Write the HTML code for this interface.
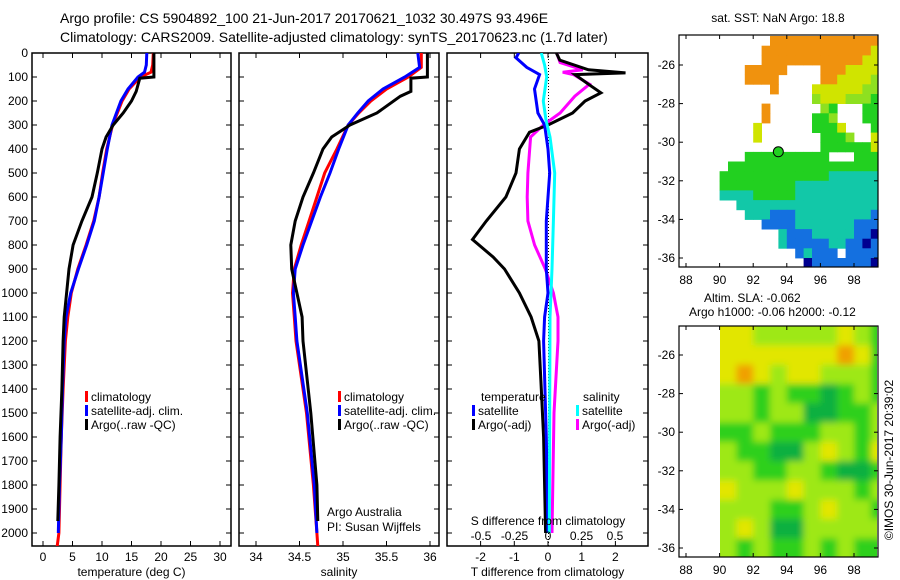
<!DOCTYPE html>
<html><head><meta charset="utf-8"><style>
body{margin:0;background:#fff;}
svg{display:block;font-family:"Liberation Sans",sans-serif;}
</style></head><body>
<svg id="fig" width="900" height="580" viewBox="0 0 900 580">
<defs>
<clipPath id="c1"><rect x="32" y="53" width="199" height="493"/></clipPath>
<clipPath id="c2"><rect x="239" y="53" width="200" height="493"/></clipPath>
<clipPath id="c3"><rect x="447" y="53" width="201" height="493"/></clipPath>
<clipPath id="cm2"><rect x="720" y="326" width="157" height="231"/></clipPath>
<filter id="blur" x="-5%" y="-5%" width="110%" height="110%"><feGaussianBlur stdDeviation="3.5"/></filter>
</defs>
<text x="60" y="23" font-size="14">Argo profile: CS 5904892_100 21-Jun-2017 20170621_1032 30.497S 93.496E</text>
<text x="60" y="42" font-size="14">Climatology: CARS2009. Satellite-adjusted climatology: synTS_20170623.nc (1.7d later)</text>
<g id="g1"></g>
<g id="g2"></g>
<g id="g3"></g>
<g id="gm1"></g>
<g id="gm2"></g>
<text x="778" y="22" font-size="12" text-anchor="middle">sat. SST: NaN Argo: 18.8</text>
<text x="704" y="302" font-size="12">Altim. SLA: -0.062</text>
<text x="689" y="316" font-size="12">Argo h1000: -0.06 h2000: -0.12</text>
<text transform="translate(893,460) rotate(-90)" font-size="12" text-anchor="middle">©IMOS 30-Jun-2017 20:39:02</text>
</svg>
<script>
// ---- profile data ----
const tClimDepth=[0,50,80,100,150,200,300,400,500,600,700,800,900,1000,1100,1200,1400,1600,1800,2000,2055];
const tClimVal=[18.7,18.6,18.3,16.5,14.6,13.4,11.8,10.8,10.1,9.5,8.6,7.3,5.9,4.8,4.2,3.8,3.4,3.1,2.9,2.7,2.4];
const tSatDepth=[0,50,80,100,150,200,300,400,500,600,700,800,900,1000,1100,1200,1400,1600,1800,2000];
const tSatVal=[17.6,17.5,17.2,16.1,14.4,13.2,11.7,10.9,10.2,9.5,8.7,7.4,6.0,4.7,3.9,3.6,3.3,3.1,2.8,2.6];
const tArgoDepth=[0,100,105,160,200,250,300,350,400,500,600,700,800,900,1000,1100,1200,1400,1600,1800,1950];
const tArgoVal=[18.8,18.8,16.4,15.8,15.0,13.6,11.9,10.7,10.0,9.2,8.3,6.6,5.1,4.4,4.0,3.6,3.4,3.2,2.9,2.7,2.5];
const sClimDepth=[0,60,100,150,200,250,300,400,500,600,700,800,900,1000,1100,1200,1500,1800,2000,2055];
const sClimVal=[35.9,35.9,35.75,35.5,35.32,35.18,35.06,34.93,34.79,34.70,34.61,34.52,34.44,34.42,34.44,34.46,34.58,34.66,34.70,34.71];
const sSatDepth=[0,60,100,150,200,250,300,400,500,600,700,800,900,1000,1100,1200,1500,1800,2000];
const sSatVal=[35.86,35.88,35.71,35.46,35.29,35.17,35.06,34.95,34.85,34.74,34.64,34.54,34.45,34.43,34.45,34.47,34.59,34.67,34.70];
const sArgoDepth=[0,100,105,160,180,250,300,350,400,500,600,700,800,900,1000,1100,1200,1500,1800,1950];
const sArgoVal=[35.97,35.97,35.78,35.78,35.66,35.39,35.08,34.87,34.77,34.66,34.54,34.45,34.40,34.41,34.47,34.53,34.54,34.63,34.70,34.71];
const dTArgoDepth=[0,30,70,83,90,130,166,200,250,300,330,400,500,600,700,777,850,900,1000,1100,1200,1400,1600,2000];
const dTArgoVal=[0.25,0.35,1.2,2.3,0.8,1.2,1.57,1.1,0.73,0,-0.55,-0.85,-0.95,-1.25,-1.83,-2.24,-1.63,-1.29,-0.85,-0.5,-0.27,-0.2,-0.13,-0.07];
const dTSatDepth=[0,20,60,90,110,150,250,300,400,500,700,900,1000,1100,1200,1600,2000];
const dTSatVal=[-0.87,-0.95,-0.63,-0.25,-0.3,-0.4,-0.3,-0.1,0,0.05,-0.05,-0.05,0,-0.1,-0.13,-0.05,0];
const dSSatDepth=[0,50,100,200,280,350,500,700,900,1100,1500,2000];
const dSSatVal=[-0.05,-0.025,-0.01,-0.035,-0.015,0.015,0.05,0.04,0.03,0.015,0.013,0.01];
const dSArgoDepth=[0,40,70,80,90,130,180,250,300,350,500,600,700,800,900,1000,1100,1200,1500,2000];
const dSArgoVal=[0.065,0.09,0.26,0.11,0.19,0.31,0.2,0.09,-0.035,-0.13,-0.15,-0.155,-0.15,-0.1,-0.02,0.04,0.075,0.075,0.045,0.03];
const depthTicks=[0,100,200,300,400,500,600,700,800,900,1000,1100,1200,1300,1400,1500,1600,1700,1800,1900,2000];
const tTicks=[0,5,10,15,20,25,30];
const sTicks=[34,34.5,35,35.5,36];
const dTTicks=[-2,-1,0,1,2];
const dSTicks=[-0.5,-0.25,0,0.25,0.5];
const dSTickLabels=["-0.5","-0.25","0","0.25","0.5"];
// ---- SST map grid (0.5 deg, lon 87.5-99.5, lat -24.5 to -36.5) ----
const sstRows=[
"...........ooooooooooooo",
"..........oooooooooooooy",
"..........ooooooooooooyy",
"........ooooo....oooyyyy",
"........oooo.....ooyyyyl",
"...........o....yyyyyyll",
"................lyyylllg",
"..........o......lg...gg",
"..........o.....ggl...gg",
".........y......gggy...g",
".........y.......gggl..y",
".................ggggggy",
"........gggggggggg...ggg",
"......gggggggggggggggggg",
".....gggggggggggggcccccc",
".....gggggggggcccccccccc",
".....ccccgggggcccccccccc",
".......ccccccccccccccccc",
"........cccbbbcccccccccb",
"..........bbbbcccccccbbb",
"............cbbbcccccbbn",
"............cbbbbbccbbnb",
"..............bcbbb.bbbb",
"...............nbbbbbbbn"];
const sstColors={o:"#f0920e",y:"#d0e400",l:"#8ee020",g:"#22d020",c:"#12c8a8",b:"#1470e0",n:"#000090"};
// ---- SLA grid (1 deg, lon 90-100, lat -24.5 to -36.5) ----
const slaRows=[
[3,3,2,2,2,2,2,3,2,1],
[3,3,3,3,3,3,3,4,3,1],
[3,4,3,2,3,3,2,2,2,1],
[2,2,1,2,1,1,0,1,2,1],
[2,2,1,2,2,0,0,1,1,2],
[1,1,2,1,1,1,2,2,1,2],
[2,1,1,0,0,2,3,2,1,3],
[2,2,1,1,2,2,1,0,0,1],
[3,2,2,2,3,2,2,2,1,2],
[2,2,2,1,1,2,3,2,2,1],
[2,3,2,0,0,2,2,2,2,2],
[2,1,2,1,1,2,1,2,1,1]];
const slaColors=["#0cb040","#2ed01c","#9ee818","#e2e600","#f0a000"];
const lonTicks=[88,90,92,94,96,98];
const latTicks=[-26,-28,-30,-32,-34,-36];

const NS="http://www.w3.org/2000/svg";
function mk(parent,tag,attrs){const e=document.createElementNS(NS,tag);for(const k in attrs)e.setAttribute(k,attrs[k]);parent.appendChild(e);return e;}
const yD=d=>53+d*0.24;
const xT=t=>43+t*5.9;
const xS=s=>256+(s-34)*87;
const xDT=t=>548+t*33.7;
const xDS=s=>548+s*134;
const TOP=53,BOT=546;

function frame(g,x0,x1,ticksX,fx,labels,title,name){
  const r=mk(g,'rect',{x:x0,y:TOP,width:x1-x0,height:BOT-TOP,fill:'none',stroke:'#000','stroke-width':1.5});
  
  
  depthTicks.forEach(d=>{
    mk(g,'line',{x1:x0,x2:x0+5,y1:yD(d),y2:yD(d),stroke:'#000'});
    mk(g,'line',{x1:x1-5,x2:x1,y1:yD(d),y2:yD(d),stroke:'#000'});
  });
  ticksX.forEach((t,i)=>{
    const x=fx(t);
    mk(g,'line',{x1:x,x2:x,y1:TOP,y2:TOP+5,stroke:'#000'});
    mk(g,'line',{x1:x,x2:x,y1:BOT-5,y2:BOT,stroke:'#000'});
    const tx=mk(g,'text',{x:x,y:561,'font-size':12,'text-anchor':'middle'});
    tx.textContent=labels?labels[i]:String(t);
    
    
  });
  const tt=mk(g,'text',{x:(x0+x1)/2,y:576,'font-size':12,'text-anchor':'middle'});
  tt.textContent=title;
  
  
}
function line(g,clip,depths,vals,fx,color,name,w){
  const pts=depths.map((d,i)=>fx(vals[i]).toFixed(1)+','+yD(d).toFixed(1)).join(' ');
  const p=mk(g,'polyline',{points:pts,fill:'none',stroke:color,'stroke-width':w||3,'clip-path':'url(#'+clip+')'});
  
  
}
function legend(g,x,y,color,label){
  mk(g,'rect',{x:x,y:y-10,width:3,height:11,fill:color});
  const t=mk(g,'text',{x:x+6,y:y,'font-size':12});
  t.textContent=label;
  
  
}
const g1=document.getElementById('g1'),g2=document.getElementById('g2'),g3=document.getElementById('g3');
depthTicks.forEach(d=>{
  const t=mk(g1,'text',{x:28,y:yD(d)+4,'font-size':12,'text-anchor':'end'});
  t.textContent=String(d);
  
  
});
frame(g1,32,231,tTicks,xT,null,'temperature (deg C)','temperature');
line(g1,'c1',tClimDepth,tClimVal,xT,'#f00','temp-climatology-line');
line(g1,'c1',tSatDepth,tSatVal,xT,'#00f','temp-satellite-line');
line(g1,'c1',tArgoDepth,tArgoVal,xT,'#000','temp-argo-line');
legend(g1,85,401,'#f00','climatology');legend(g1,85,415,'#00f','satellite-adj. clim.');legend(g1,85,429,'#000','Argo(..raw -QC)');

frame(g2,239,439,sTicks,xS,null,'salinity','salinity');
line(g2,'c2',sClimDepth,sClimVal,xS,'#f00','sal-climatology-line');
line(g2,'c2',sSatDepth,sSatVal,xS,'#00f','sal-satellite-line');
line(g2,'c2',sArgoDepth,sArgoVal,xS,'#000','sal-argo-line');
legend(g2,338,401,'#f00','climatology');legend(g2,338,415,'#00f','satellite-adj. clim.');legend(g2,338,429,'#000','Argo(..raw -QC)');
[['Argo Australia',516],['PI: Susan Wijffels',531]].forEach(a=>{
  const t=mk(g2,'text',{x:327,y:a[1],'font-size':12});t.textContent=a[0];
  
  
});

frame(g3,447,648,dTTicks,xDT,null,'T difference from climatology','difference');
mk(g3,'line',{x1:548.5,x2:548.5,y1:TOP,y2:BOT,stroke:'#000','stroke-dasharray':'1,2'});
line(g3,'c3',dSArgoDepth,dSArgoVal,xDS,'#f0f','sdiff-argo-line');
line(g3,'c3',dTArgoDepth,dTArgoVal,xDT,'#000','tdiff-argo-line');
line(g3,'c3',dTSatDepth,dTSatVal,xDT,'#00f','tdiff-satellite-line');
line(g3,'c3',dSSatDepth,dSSatVal,xDS,'#0ff','sdiff-satellite-line');
dSTicks.forEach((s,i)=>{
  const t=mk(g3,'text',{x:xDS(s),y:540,'font-size':12,'text-anchor':'middle'});t.textContent=dSTickLabels[i];
  
  
});
{const t=mk(g3,'text',{x:548,y:525,'font-size':12,'text-anchor':'middle'});t.textContent='S difference from climatology';

}
{const t=mk(g3,'text',{x:481,y:401,'font-size':12});t.textContent='temperature';

}
{const t=mk(g3,'text',{x:583,y:401,'font-size':12});t.textContent='salinity';

}
legend(g3,472,415,'#00f','satellite');legend(g3,472,429,'#000','Argo(-adj)');
legend(g3,576,415,'#0ff','satellite');legend(g3,576,429,'#f0f','Argo(-adj)');

const xL=lon=>686+(lon-88)*16.8;
function mapAxes(g,y0,y1,latY,name){
  const r=mk(g,'rect',{x:679,y:y0,width:199,height:y1-y0,fill:'none',stroke:'#000','stroke-width':1.2});
  
  
  lonTicks.forEach(l=>{
    mk(g,'line',{x1:xL(l),x2:xL(l),y1:y0,y2:y0+4,stroke:'#000'});
    mk(g,'line',{x1:xL(l),x2:xL(l),y1:y1-4,y2:y1,stroke:'#000'});
    const t=mk(g,'text',{x:xL(l),y:y1+17,'font-size':12,'text-anchor':'middle'});t.textContent=String(l);
    
    
  });
  latTicks.forEach(l=>{
    mk(g,'line',{x1:679,x2:683,y1:latY(l),y2:latY(l),stroke:'#000'});
    mk(g,'line',{x1:874,x2:878,y1:latY(l),y2:latY(l),stroke:'#000'});
    const t=mk(g,'text',{x:675,y:latY(l)+4,'font-size':12,'text-anchor':'end'});t.textContent=String(l);
    
    
  });
}
const gm1=document.getElementById('gm1');
const yA=lat=>65+(-26-lat)*19.3;
sstRows.forEach((row,r)=>{
  [...row].forEach((ch,c)=>{
    if(ch==='.')return;
    const lon=87.5+0.5*c,lat=-24.5-0.5*r;
    const x0=Math.max(679,xL(lon)),x1=Math.min(878,xL(lon+0.5));
    const y0=Math.max(35,yA(lat)),y1=Math.min(267,yA(lat-0.5));
    const cell=mk(gm1,'rect',{x:x0.toFixed(1),y:y0.toFixed(1),width:(x1-x0+0.4).toFixed(1),height:(y1-y0+0.4).toFixed(1),fill:sstColors[ch]});
    
    
  });
});
{const c=mk(gm1,'circle',{cx:xL(93.496),cy:yA(-30.497),r:5,fill:'#22d020',stroke:'#000'});

}
mapAxes(gm1,35,267,yA,'sst-map');

const gm2=document.getElementById('gm2');
const yB=lat=>355+(-26-lat)*19.3;
const hm=mk(gm2,'g',{'clip-path':'url(#cm2)'});
const hb=mk(hm,'g',{filter:'url(#blur)'});
slaRows.forEach((row,r)=>{
  row.forEach((v,c)=>{
    const lon=90+c,lat=-24.5-r;
    const cell=mk(hb,'rect',{x:xL(lon)-(c===0?10:0),y:yB(lat)-(r===0?10:0),width:16.8+(c===0||c===9?10:0)+0.5,height:19.3+(r===0||r===11?10:0)+0.5,fill:slaColors[v]});
    
    
  });
});
mapAxes(gm2,326,557,yB,'sla-map');
</script>
</body></html>
